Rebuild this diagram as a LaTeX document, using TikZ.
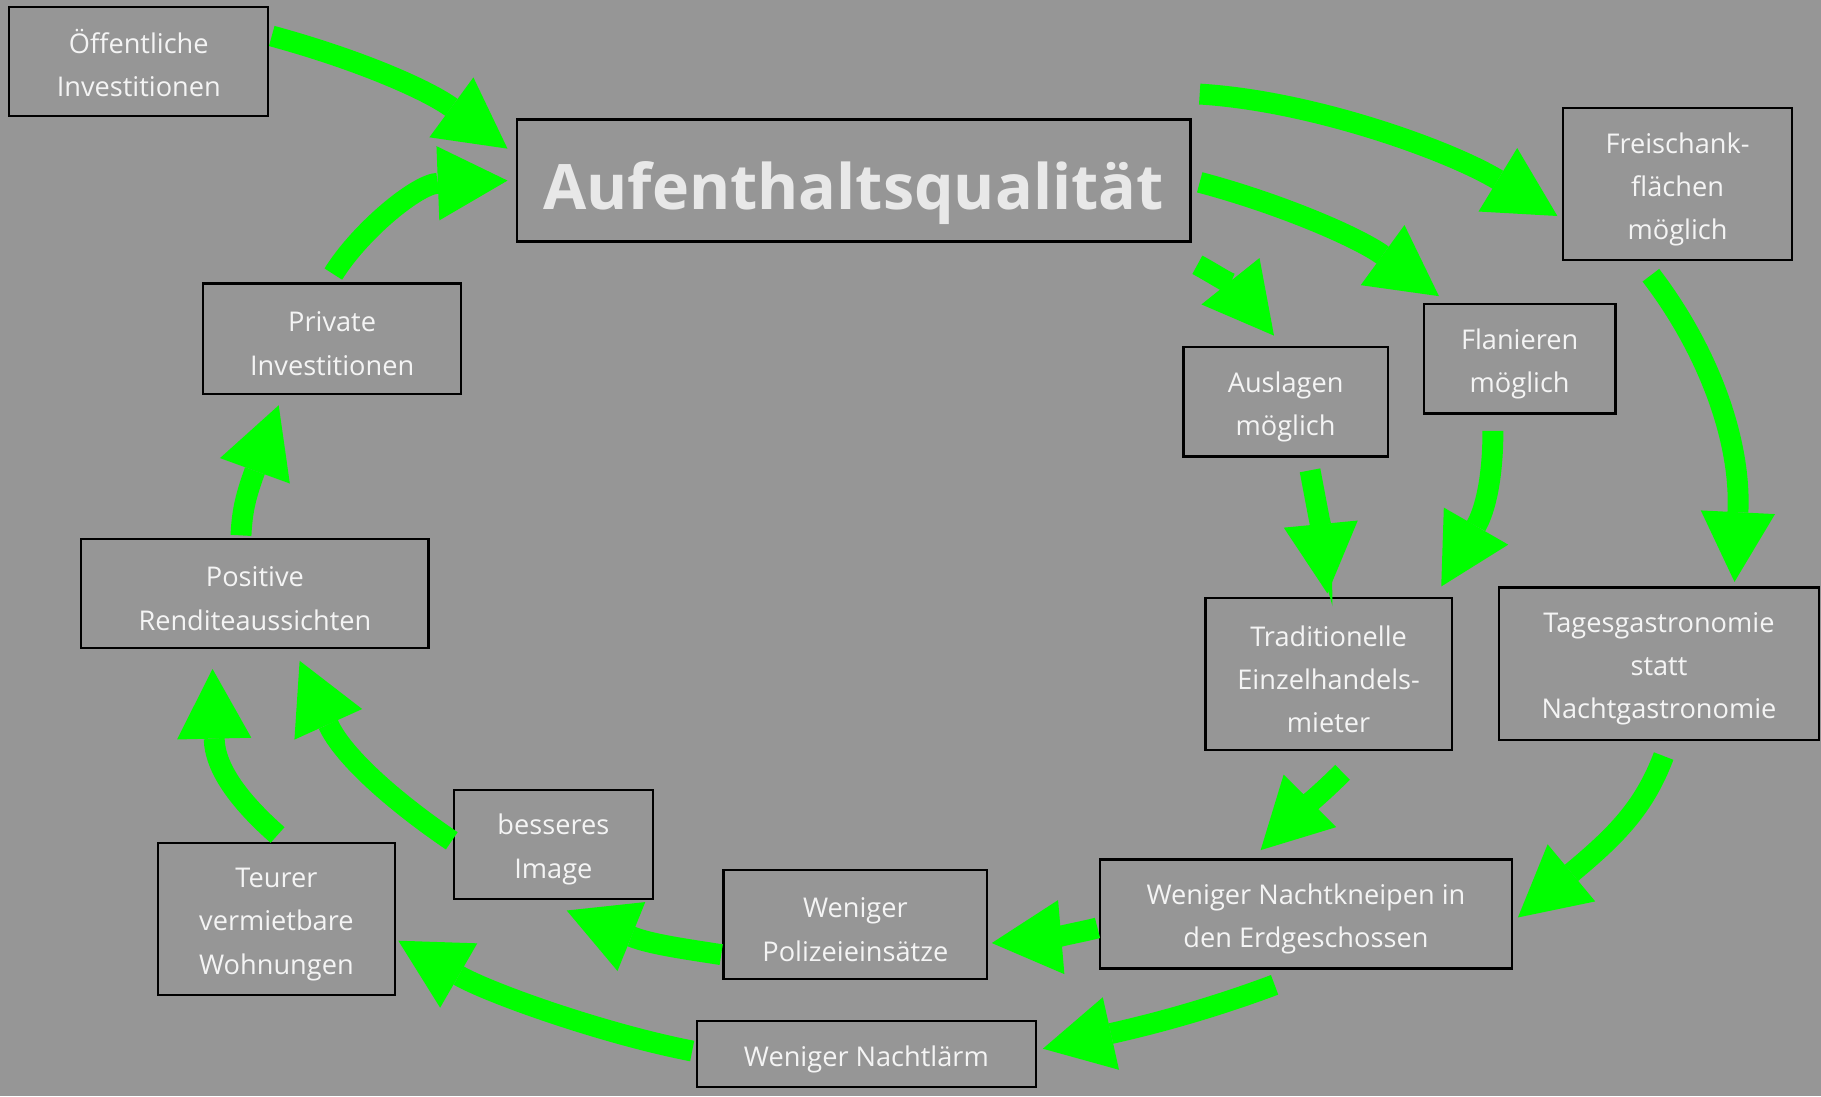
\documentclass[tikz,border=0pt]{standalone}
\usepackage{fontspec}
\setmainfont{Open Sans}
\usetikzlibrary{arrows.meta,calc}
\definecolor{bg}{HTML}{969696}
\definecolor{grn}{HTML}{00FF00}
\definecolor{txt}{HTML}{F4F4F4}
\definecolor{ttl}{HTML}{E8E8E8}
\tikzset{
  box/.style={draw=black, line width=2pt, fill=bg, inner sep=0pt},
  lbl/.style={text=txt, align=center, inner sep=0pt, yshift=-4.5pt,
    font=\fontsize{23.4}{37.3}\selectfont},
  ttlbl/.style={text=ttl, inner sep=0pt, yshift=-11pt,
    font=\fontsize{54}{60}\selectfont\bfseries},
  arr/.style={draw=grn, line width=18pt, -{Triangle[width=64pt,length=60pt,line width=0pt]}}
}
\begin{document}
\begin{tikzpicture}[x=1pt,y=-1pt]
\fill[bg] (0,0) rectangle (1568,944);
\useasboundingbox (0,0) rectangle (1568,944);
% nodes
\node[box, minimum width=223, minimum height=94, label={[lbl,yshift=3pt]center:{Öffentliche\\Investitionen}}] (oef) at (119.5,53) {};
\node[box, minimum width=580, minimum height=105, label={[ttlbl]center:{Aufenthaltsqualität}}] (auf) at (735,155.5) {};
\node[box, minimum width=222, minimum height=95, label={[lbl]center:{Private\\Investitionen}}] (priv) at (286,291.5) {};
\node[box, minimum width=299, minimum height=94, label={[lbl]center:{Positive\\Renditeaussichten}}] (pos) at (219.5,511) {};
\node[box, minimum width=204, minimum height=131, label={[lbl]center:{Teurer\\vermietbare\\Wohnungen}}] (teu) at (238,791.5) {};
\node[box, minimum width=171, minimum height=94, label={[lbl]center:{besseres\\Image}}] (bes) at (476.5,727) {};
\node[box, minimum width=227, minimum height=94, label={[lbl]center:{Weniger\\Polizeieinsätze}}] (pol) at (736.5,796) {};
\node[box, minimum width=292, minimum height=57, label={[lbl]center:{Weniger Nachtlärm}}] (laerm) at (746,907.5) {};
\node[box, minimum width=355, minimum height=94, label={[lbl]center:{Weniger Nachtkneipen in\\den Erdgeschossen}}] (kneip) at (1124.5,787) {};
\node[box, minimum width=212, minimum height=131, label={[lbl]center:{Traditionelle\\Einzelhandels-\\mieter}}] (trad) at (1144,580.5) {};
\node[box, minimum width=275, minimum height=131, label={[lbl]center:{Tagesgastronomie\\statt\\Nachtgastronomie}}] (tages) at (1428.5,571.5) {};
\node[box, minimum width=176, minimum height=94, label={[lbl]center:{Auslagen\\möglich}}] (ausl) at (1107,346) {};
\node[box, minimum width=165, minimum height=94, label={[lbl]center:{Flanieren\\möglich}}] (flan) at (1308.5,309) {};
\node[box, minimum width=197, minimum height=131, label={[lbl]center:{Freischank-\\flächen\\möglich}}] (frei) at (1444.5,158.5) {};
% arrows
\draw[arr] ($(oef.east)+(2,-22)$) .. controls +(77,21) and +(-68,-50) .. ($(auf.west)+(-7,-27.5)$);
\draw[arr] ($(priv.north)+(1,-7)$) .. controls +(23,-37) and +(-78,3) .. ($(auf.west)+(-7,0)$);
\draw[arr] ($(auf.north east)+(7,-21)$) .. controls +(98,6) and +(-92,-56) .. ($(frei.west)+(-4,27.5)$);
\draw[arr] ($(auf.east)+(7,1.5)$) .. controls +(68,18) and +(-70,-51) .. ($(flan.north west)+(14,-6)$);
\draw[arr] ($(auf.south east)+(5,19)$) .. controls +(15,8) and +(-32,-40) .. ($(ausl.north)+(-10,-9)$);
\draw[arr] ($(frei.south)+(-23,12)$) .. controls +(49,64) and +(6,-122) .. ($(tages.north)+(65,-4)$);
\draw[arr] ($(flan.south)+(-23,14)$) .. controls +(0,40) and +(38,-66) .. ($(trad.north east)+(-10,-9)$);
\draw[arr] ($(ausl.south)+(21,11)$) .. controls +(5,26) and +(-5,-52) .. ($(trad.north)+(-1,-3)$);
\draw[arr] ($(trad.south)+(12,18)$) .. controls +(-20,20) and +(30,-30) .. ($(kneip.north)+(-39,-7)$);
\draw[arr] ($(tages.south)+(4,13)$) .. controls +(-17,45) and +(84,-70) .. ($(kneip.east)+(4,3)$);
\draw[arr] ($(kneip.west)+(-1,12)$) .. controls +(-11,3) and +(47,-4) .. ($(pol.east)+(3,16)$);
\draw[arr] ($(kneip.south)+(-27,13)$) .. controls +(-48,18) and +(103,-23) .. ($(laerm.east)+(5,-4.5)$);
\draw[arr] ($(pol.west)+(-1,26)$) .. controls +(-32,-5) and +(72,29) .. ($(bes.south)+(11.5,9)$);
\draw[arr] ($(laerm.west)+(-3,-2.5)$) .. controls +(-77,-15) and +(78,45) .. ($(teu.east)+(2,18.5)$);
\draw[arr] ($(bes.west)+(-1,-3)$) .. controls +(-50,-34) and +(37,82) .. ($(pos.south)+(38.5,10)$);
\draw[arr] ($(teu.north)+(1,-6)$) .. controls +(-34,-30) and +(2,85) .. ($(pos.south)+(-36.5,17)$);
\draw[arr] ($(pos.north)+(-12,-2)$) .. controls +(1,-22) and +(-28,77) .. ($(priv.south)+(-46,9)$);
\end{tikzpicture}
\end{document}
